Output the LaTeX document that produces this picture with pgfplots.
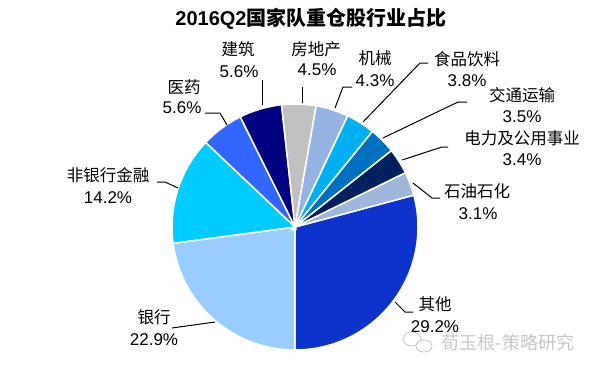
\documentclass[border=0pt]{standalone}
\usepackage{pgfplots}
\usepackage{pgfplotstable}
\pgfplotsset{compat=1.18}
\usepackage{fontspec}
\setmainfont{Liberation Sans}
\newfontfamily\cjk{Noto Sans CJK SC}
\definecolor{cQT}{RGB}{12,52,204}
\definecolor{cYH}{RGB}{153,204,255}
\definecolor{cFY}{RGB}{0,204,255}
\definecolor{cYY}{RGB}{51,102,255}
\definecolor{cJZ}{RGB}{0,0,128}
\definecolor{cFD}{RGB}{192,192,192}
\definecolor{cJX}{RGB}{149,179,227}
\definecolor{cSP}{RGB}{0,176,240}
\definecolor{cJT}{RGB}{0,112,192}
\definecolor{cDL}{RGB}{0,32,96}
\definecolor{cSY}{RGB}{160,182,218}
\pgfplotstableread{
value col
29.2 cQT
22.9 cYH
14.2 cFY
5.6 cYY
5.6 cJZ
4.5 cFD
4.3 cJX
3.8 cSP
3.5 cJT
3.4 cDL
3.1 cSY
}\piedata
\begin{document}
\begin{tikzpicture}[
  cl/.style={font=\cjk\fontsize{16.5}{17}\selectfont,inner sep=0pt},
  pl/.style={font=\fontsize{17}{17}\selectfont,inner sep=0pt},
  ll/.style={black,line width=1pt}]
\begin{axis}[width=600pt,height=373pt,scale only axis,
  xmin=0,xmax=600,ymin=0,ymax=373,y dir=reverse,hide axis,clip=false]
\addplot[draw=none] coordinates {(0,0) (600,373)};
\def\cum{0}
\pgfplotsforeachungrouped \i in {0,...,10}{%
  \pgfplotstablegetelem{\i}{value}\of\piedata \let\slval\pgfplotsretval
  \pgfplotstablegetelem{\i}{col}\of\piedata \let\slcol\pgfplotsretval
  \pgfmathsetmacro\sa{15-\cum*3.6/1.001}%
  \pgfmathsetmacro\cum{\cum+\slval}%
  \pgfmathsetmacro\ea{15-\cum*3.6/1.001}%
  \edef\doit{\noexpand\fill[fill=\slcol,draw=white,line width=1.5pt] (axis cs:295,227) -- ++(\sa:123pt) arc[start angle=\sa,end angle=\ea,radius=123pt] -- cycle;}%
  \doit
}
% leader lines
\draw[ll] (axis cs:262,80) -- (axis cs:262,105);
\draw[ll] (axis cs:302,87) -- (axis cs:302,103);
\draw[ll] (axis cs:352,87) -- (axis cs:343,87) -- (axis cs:335,108);
\draw[ll] (axis cs:428,63) -- (axis cs:420,63) -- (axis cs:363,122);
\draw[ll] (axis cs:467,102) -- (axis cs:458,102) -- (axis cs:383,138);
\draw[ll] (axis cs:448,147) -- (axis cs:442,147) -- (axis cs:402,160);
\draw[ll] (axis cs:440,198) -- (axis cs:432,198) -- (axis cs:413,183);
\draw[ll] (axis cs:413,312) -- (axis cs:405,312) -- (axis cs:395,302);
\draw[ll] (axis cs:172,328) -- (axis cs:215,322);
\draw[ll] (axis cs:157,182) -- (axis cs:165,182) -- (axis cs:178,188);
\draw[ll] (axis cs:205,113) -- (axis cs:220,113) -- (axis cs:227,125);
% labels
\node[cl] at (axis cs:238,49) {建筑};
\node[pl] at (axis cs:239,72) {5.6\%};
\node[cl] at (axis cs:316,49) {房地产};
\node[pl] at (axis cs:317,70) {4.5\%};
\node[cl] at (axis cs:375,58) {机械};
\node[pl] at (axis cs:375,81) {4.3\%};
\node[cl] at (axis cs:467,59) {食品饮料};
\node[pl] at (axis cs:467,81) {3.8\%};
\node[cl] at (axis cs:522,95) {交通运输};
\node[pl] at (axis cs:522,117) {3.5\%};
\node[cl] at (axis cs:522,138) {电力及公用事业};
\node[pl] at (axis cs:522,160) {3.4\%};
\node[cl] at (axis cs:477,191) {石油石化};
\node[pl] at (axis cs:478,214) {3.1\%};
\node[cl] at (axis cs:435,304) {其他};
\node[pl] at (axis cs:435,327) {29.2\%};
\node[cl] at (axis cs:154,317) {银行};
\node[pl] at (axis cs:154,340) {22.9\%};
\node[cl] at (axis cs:108,175) {非银行金融};
\node[pl] at (axis cs:108,198) {14.2\%};
\node[cl] at (axis cs:184,87) {医药};
\node[pl] at (axis cs:182,108) {5.6\%};
% title
\node[inner sep=0pt,font=\fontsize{20}{20}\selectfont\bfseries] at (axis cs:311,19) {2016Q2{\cjk\bfseries 国家队重仓股行业占比}};
% watermark
\draw[black!22,line width=0.8pt] (axis cs:412,339) ellipse [x radius=9pt,y radius=7pt];
\draw[black!22,line width=0.8pt,fill=white] (axis cs:424,346) ellipse [x radius=8pt,y radius=6pt];
\node[inner sep=0pt,text=black!22,font=\cjk\fontsize{18}{18}\selectfont] at (axis cs:508,343) {荀玉根-策略研究};
\end{axis}
\end{tikzpicture}
\end{document}
